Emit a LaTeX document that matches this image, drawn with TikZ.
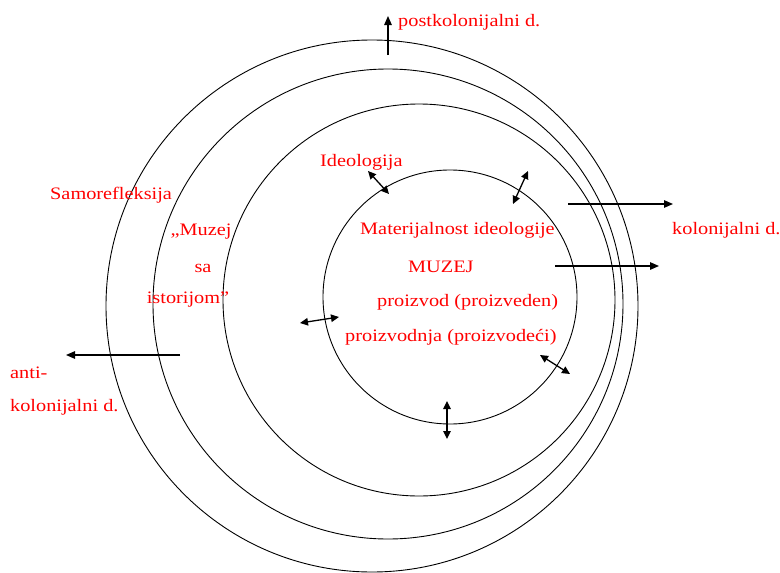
\documentclass[tikz,border=0pt]{standalone}
\usepackage{fontspec}
\setmainfont{Liberation Serif}
\usetikzlibrary{arrows.meta, positioning}
\newcommand{\widetext}[1]{\scalebox{1.16}[1]{#1}}
\tikzset{
    lbl/.style={text=red, font=\fontsize{17.5}{20}\selectfont, inner sep=0pt, anchor=west},
    ring/.style={line width=0.9pt},
    outarrow/.style={line width=1.3pt, -{Triangle[length=9pt,width=7.5pt]}},
    twoway/.style={line width=1.3pt, {Triangle[length=8pt,width=7.5pt]}-{Triangle[length=8pt,width=7.5pt]}}
}

\begin{document}
\begin{tikzpicture}[x=1pt, y=-1pt]
    \useasboundingbox (0,0) rectangle (780,573);

    % Define the rings
    \draw[ring] (372,306) circle (266pt);
    \draw[ring] (388,304) circle (235pt);
    \draw[ring] (419,300) circle (196pt);
    \draw[ring] (450,297) circle (127pt);

    % Labels outside
    \node[lbl] (post) at (398,22) {\widetext{postkolonijalni d.}};
    \node[lbl] (kol) at (672,230) {\widetext{kolonijalni d.}};
    \node[lbl] (anti) at (10,373) {\widetext{anti-}};
    \node[lbl] (antikol) at (10,407) {\widetext{kolonijalni d.}};
    \node[lbl] (samo) at (50,195) {\widetext{Samorefleksija}};
    \node[lbl, anchor=center] (muzej) at (201,232) {\widetext{„Muzej}};
    \node[lbl, anchor=center] (sa) at (203,268) {\widetext{sa}};
    \node[lbl, anchor=center] (istorijom) at (188,300) {\widetext{istorijom”}};
    \node[lbl] (ideo) at (320,162) {\widetext{Ideologija}};

    % Labels inside
    \node[lbl] (mat) at (360,230) {\widetext{Materijalnost ideologije}};
    \node[lbl] (muz) at (408,267) {\widetext{MUZEJ}};
    \node[lbl] (proizvod) at (377,302) {\widetext{proizvod (proizveden)}};
    \node[lbl] (proizvodnja) at (345,337) {\widetext{proizvodnja (proizvodeći)}};

    % Arrow ends
    \coordinate (post-a) at (388,55);
    \coordinate (post-b) at (388,16);
    \coordinate (kol1-a) at (568,204);
    \coordinate (kol1-b) at (673,204);
    \coordinate (kol2-a) at (555,266);
    \coordinate (kol2-b) at (659,266);
    \coordinate (anti-a) at (180,355);
    \coordinate (anti-b) at (66,355);

    \coordinate (d1-a) at (368,171);
    \coordinate (d1-b) at (389,194);
    \coordinate (d2-a) at (528,171);
    \coordinate (d2-b) at (513,204);
    \coordinate (d3-a) at (300,323);
    \coordinate (d3-b) at (339,317);
    \coordinate (d4-a) at (540,355);
    \coordinate (d4-b) at (570,374);
    \coordinate (d5-a) at (447,401);
    \coordinate (d5-b) at (447,439);

    % Mark arrows
    \draw[outarrow] (post-a) -- (post-b);
    \draw[outarrow] (kol1-a) -- (kol1-b);
    \draw[outarrow] (kol2-a) -- (kol2-b);
    \draw[outarrow] (anti-a) -- (anti-b);

    \draw[twoway] (d1-a) -- (d1-b);
    \draw[twoway] (d2-a) -- (d2-b);
    \draw[twoway] (d3-a) -- (d3-b);
    \draw[twoway] (d4-a) -- (d4-b);
    \draw[twoway] (d5-a) -- (d5-b);
\end{tikzpicture}
\end{document}
